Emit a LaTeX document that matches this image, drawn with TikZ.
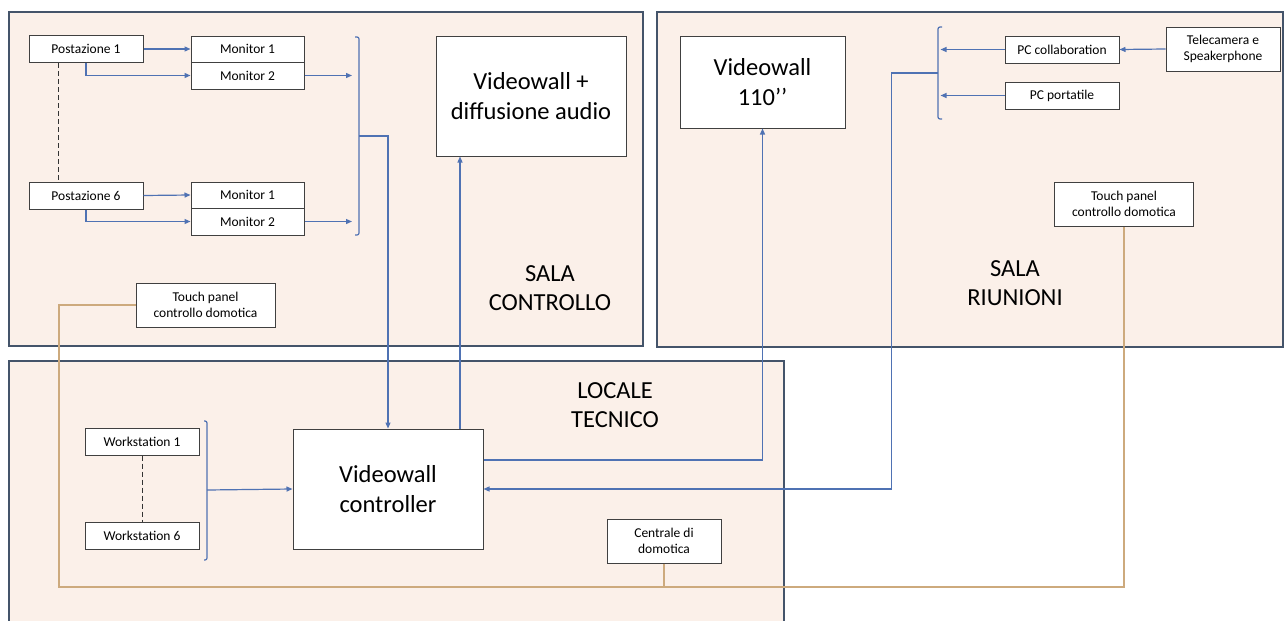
\documentclass[tikz,border=0pt]{standalone}
\usepackage{fontspec}
\setmainfont{Carlito}
\usepackage{tikz}
\usetikzlibrary{arrows.meta}
\definecolor{roomfill}{HTML}{FBF0E9}
\definecolor{roomedge}{HTML}{44546A}
\definecolor{boxedge}{HTML}{404040}
\definecolor{linkblue}{HTML}{4F72B3}
\definecolor{domotan}{HTML}{CDAA7D}
\newcommand*{\smalltxt}{\fontsize{13.5}{16.5}\selectfont}
\newcommand*{\bigtxt}{\fontsize{24.5}{29.5}\selectfont}

\begin{document}
\begin{tikzpicture}
[
    x = 1pt, y = -1pt,
    room/.style={draw = roomedge, fill = roomfill, line width = 1.6pt},
    unit/.style={draw = boxedge, fill = white, line width = 1pt, inner sep = 0pt, align = center, font = \smalltxt, minimum width = 114pt, minimum height = 27pt},
    tall/.style={unit, minimum height = 44pt},
    wide/.style={unit, minimum width = 139pt, minimum height = 44pt},
    big/.style={unit, font = \bigtxt, minimum width = 190pt, minimum height = 120pt},
    label/.style={align = center, font = \bigtxt},
    link/.style={draw = linkblue, line width = 1.2pt, -{Triangle[length = 6pt, width = 5pt]}},
    brace/.style={draw = linkblue, line width = 1.2pt, rounded corners = 2pt},
    dots/.style={draw = black!80, line width = 1pt, dash pattern = on 5pt off 3pt},
    domo/.style={draw = domotan, line width = 1.3pt},
]
\useasboundingbox (0,0) rectangle (1286,621);

% Rooms
\draw[room] (9,12) rectangle (643,346);
\draw[room] (657,12) rectangle (1283,347);
\draw[room] (9,361) rectangle (784,640);

\node[label] (salactrl) at (550,288) {SALA\\CONTROLLO};
\node[label] (salariun) at (1015,283) {SALA\\RIUNIONI};
\node[label] (locale) at (615,405) {LOCALE\\TECNICO};

% Sala controllo
\node[unit] (post1) at (86,49) {Postazione 1};
\node[unit, minimum width = 113pt, minimum height = 26pt] (mon11) at (247.5,49) {Monitor 1};
\node[unit, minimum width = 113pt] (mon12) at (247.5,75.5) {Monitor 2};
\node[unit] (post6) at (86,195.5) {Postazione 6};
\node[unit, minimum width = 113pt, minimum height = 26pt] (mon61) at (247.5,195) {Monitor 1};
\node[unit, minimum width = 113pt] (mon62) at (247.5,221.5) {Monitor 2};
\node[big] (vwaudio) at (531,96) {Videowall +\\diffusione audio};
\node[wide] (touchsc) at (205.5,305) {Touch panel\\controllo domotica};

% Sala riunioni
\node[big, minimum width = 165pt, minimum height = 92pt] (vw110) at (762.5,82) {Videowall\\110\textquoteright\textquoteright};
\node[unit] (pccoll) at (1062,49.5) {PC collaboration};
\node[unit] (pcport) at (1062,95.5) {PC portatile};
\node[tall] (telecam) at (1223,49) {Telecamera e\\Speakerphone};
\node[wide] (touchsr) at (1124,204) {Touch panel\\controllo domotica};

% Locale tecnico
\node[unit] (ws1) at (142,441.5) {Workstation 1};
\node[unit] (ws6) at (142,535.5) {Workstation 6};
\node[big] (ctrl) at (388,489) {Videowall\\controller};
\node[tall] (centrale) at (664,541) {Centrale di\\domotica};

% Brackets
\draw[brace] (355,37) -- (359,37) -- (359,235) -- (355,235);
\coordinate (brA) at (359,136);
\draw[brace] (942,27) -- (938,27) -- (938,119) -- (942,119);
\draw[draw = linkblue, line width = 1.2pt] (938,73) -- (935,73);
\coordinate (brB) at (935,73);
\draw[brace] (204,421) -- (207,421) -- (207,560) -- (204,560);
\coordinate (brC) at (207,490);
\coordinate (bus) at (59,587);

% Video links
\draw[link] (post1.east) -- (mon11.west);
\draw[link] (post1.south) |- (mon12.west);
\draw[link] (post6.east) -- (mon61.west);
\draw[link] (post6.south) |- (mon62.west);
\draw[link] (mon12.east) -- ([xshift=-7]mon12.east -| brA);
\draw[link] (mon62.east) -- ([xshift=-7]mon62.east -| brA);
\draw[link] (brA) -| (ctrl.north);
\draw[link] ([xshift=72]ctrl.north) -- ([xshift=72]ctrl.north |- vwaudio.south);
\draw[link] ([yshift=29]ctrl.east) -| (vw110.south);
\draw[link] (brB) -| ([xshift=408]ctrl.east) -- (ctrl.east);
\draw[link] (pccoll.west) -- ++(-64,0);
\draw[link] (pcport.west) -- ++(-64,0);
\draw[link] (telecam.west) -- (pccoll.east);
\draw[link] (brC) -- (ctrl.west);
\draw[dots] ([xshift=-28]post1.south) -- ([xshift=-28]post6.north);
\draw[dots] (ws1.south) -- (ws6.north);

% Domotica bus
\draw[domo] (touchsc.west) -| (bus) -| (touchsr.south);
\draw[domo] (centrale.south) -- (centrale.south |- bus);
\end{tikzpicture}
\end{document}
